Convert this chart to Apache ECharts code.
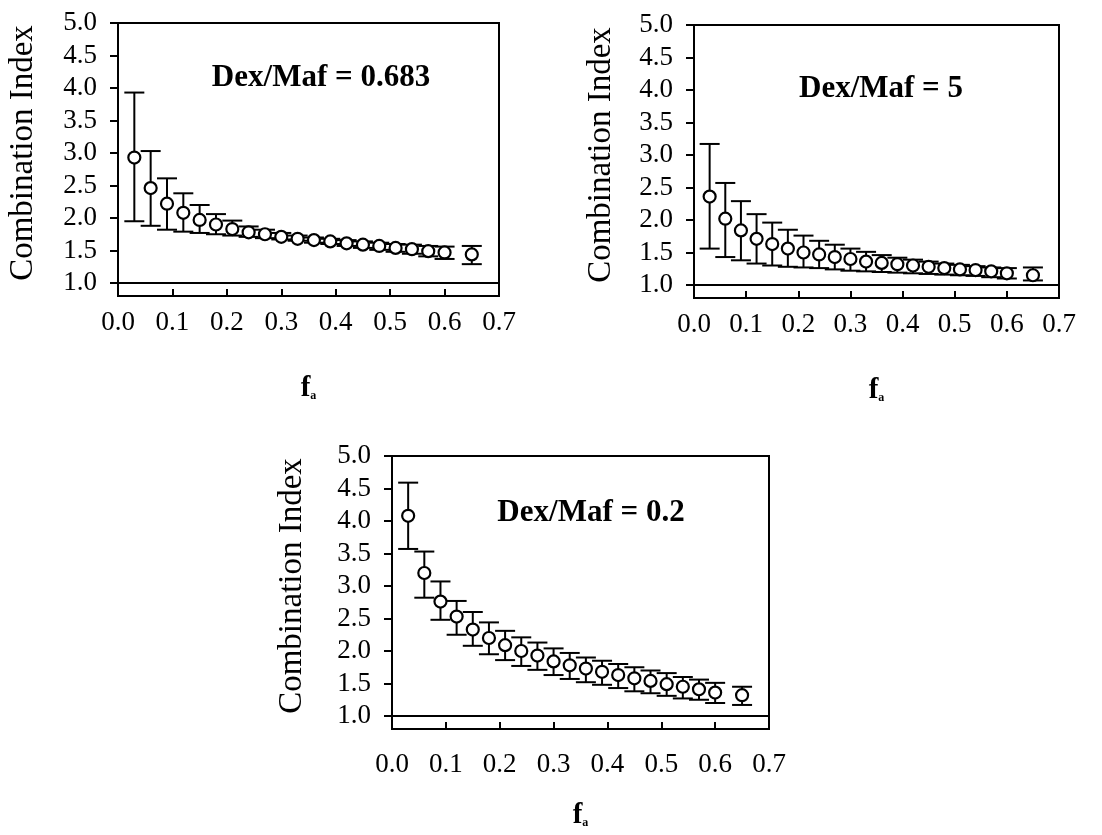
<!DOCTYPE html>
<html>
<head>
<meta charset="utf-8">
<script src="https://cdn.jsdelivr.net/npm/echarts@6/dist/echarts.min.js"></script>
<style>html,body{margin:0;padding:0;background:#fff}#c{width:1102px;height:835px}</style>
</head>
<body>
<div id="c"></div>
<script>
// ---- data ----
const fa = [0.03,0.06,0.09,0.12,0.15,0.18,0.21,0.24,0.27,0.30,0.33,0.36,0.39,0.42,0.45,0.48,0.51,0.54,0.57,0.60,0.65];

const ci1 = [2.93,2.46,2.22,2.08,1.97,1.90,1.83,1.78,1.75,1.71,1.68,1.66,1.64,1.61,1.59,1.57,1.54,1.52,1.49,1.47,1.44];
const hi1 = [3.93,3.03,2.61,2.38,2.20,2.06,1.96,1.87,1.82,1.77,1.73,1.70,1.68,1.66,1.64,1.62,1.60,1.59,1.57,1.56,1.57];
const lo1 = [1.95,1.88,1.82,1.79,1.77,1.75,1.73,1.71,1.69,1.67,1.65,1.62,1.60,1.57,1.54,1.51,1.48,1.45,1.41,1.37,1.29];

const ci2 = [2.36,2.02,1.84,1.71,1.63,1.56,1.50,1.47,1.43,1.40,1.36,1.34,1.32,1.30,1.28,1.26,1.24,1.23,1.21,1.18,1.15];
const hi2 = [3.17,2.57,2.29,2.09,1.96,1.85,1.76,1.68,1.62,1.56,1.51,1.46,1.42,1.39,1.36,1.33,1.31,1.29,1.27,1.26,1.27];
const lo2 = [1.56,1.43,1.38,1.33,1.30,1.28,1.27,1.26,1.24,1.22,1.21,1.20,1.19,1.18,1.17,1.16,1.15,1.14,1.12,1.10,1.07];

const ci3 = [4.08,3.20,2.76,2.53,2.33,2.20,2.09,2.00,1.93,1.84,1.78,1.73,1.68,1.63,1.58,1.54,1.49,1.45,1.41,1.36,1.32];
const hi3 = [4.59,3.53,3.07,2.77,2.60,2.44,2.31,2.21,2.13,2.04,1.97,1.90,1.85,1.80,1.75,1.70,1.66,1.60,1.56,1.51,1.45];
const lo3 = [3.57,2.82,2.48,2.25,2.08,1.95,1.86,1.77,1.71,1.63,1.57,1.52,1.48,1.43,1.38,1.35,1.31,1.27,1.25,1.20,1.17];

const panelTitles = ['Dex/Maf = 0.683', 'Dex/Maf = 5', 'Dex/Maf = 0.2'];
const yTicks = [1.0,1.5,2.0,2.5,3.0,3.5,4.0,4.5,5.0];
const xTicks = [0.0,0.1,0.2,0.3,0.4,0.5,0.6,0.7];
const baseline = 1.0;
const yName = 'Combination Index';

// ---- layout ----
const FONT = '"Liberation Serif", "Times New Roman", serif';
const panels = [
  {ci: ci1, hi: hi1, lo: lo1, grid: {left: 118, top: 23, width: 381, height: 273}, title: [321, 78], yname: [23, 153], nameGap: 78, labelMargin: 13},
  {ci: ci2, hi: hi2, lo: lo2, grid: {left: 694, top: 25, width: 365, height: 273}, title: [881, 89], yname: [601, 155], nameGap: 78, labelMargin: 13},
  {ci: ci3, hi: hi3, lo: lo3, grid: {left: 392, top: 456, width: 377, height: 273}, title: [591, 513], yname: [292, 586], nameGap: 72, labelMargin: 22}
];

const grids = [], xAxes = [], yAxes = [], series = [], graphics = [];
panels.forEach((p, k) => {
  grids.push(Object.assign({show: true, borderColor: '#000', borderWidth: 2, backgroundColor: 'transparent'}, p.grid));
  xAxes.push({
    type: 'value', gridIndex: k, min: xTicks[0], max: xTicks[xTicks.length - 1], interval: 0.1,
    axisLine: {show: true, onZero: false, lineStyle: {color: '#000', width: 2}},
    axisTick: {show: true, inside: true, length: 7, lineStyle: {color: '#000', width: 2}},
    axisLabel: {margin: p.labelMargin, color: '#000', fontSize: 27, fontFamily: FONT, formatter: v => v.toFixed(1), customValues: xTicks},
    splitLine: {show: false},
    name: '{f|f}{s|a}', nameLocation: 'middle', nameGap: p.nameGap,
    nameTextStyle: {rich: {
      f: {fontSize: 29, fontWeight: 'bold', fontFamily: FONT, color: '#000'},
      s: {fontSize: 12, fontWeight: 'bold', fontFamily: FONT, color: '#000', padding: [14, 0, 0, 0]}
    }}
  });
  yAxes.push({
    type: 'value', gridIndex: k, min: 0.8, max: 5.0,
    axisLine: {show: true, onZero: false, lineStyle: {color: '#000', width: 2}},
    axisTick: {show: true, inside: false, length: 8, customValues: yTicks, lineStyle: {color: '#000', width: 2}},
    axisLabel: {margin: 21, color: '#000', fontSize: 27, fontFamily: FONT, formatter: v => v.toFixed(1), customValues: yTicks},
    splitLine: {show: false}
  });
  series.push({
    type: 'custom', xAxisIndex: k, yAxisIndex: k, z: 2,
    data: fa.map((x, i) => [x, p.lo[i], p.hi[i]]),
    encode: {x: 0, y: [1, 2]},
    renderItem: function (params, api) {
      const x = api.value(0);
      const a = api.coord([x, api.value(2)]);
      const b = api.coord([x, api.value(1)]);
      const w = 10;
      const st = {stroke: '#000', lineWidth: 2};
      return {type: 'group', children: [
        {type: 'line', shape: {x1: a[0], y1: a[1], x2: b[0], y2: b[1]}, style: st},
        {type: 'line', shape: {x1: a[0] - w, y1: a[1], x2: a[0] + w, y2: a[1]}, style: st},
        {type: 'line', shape: {x1: b[0] - w, y1: b[1], x2: b[0] + w, y2: b[1]}, style: st}
      ]};
    },
    silent: true
  });
  series.push({
    type: 'scatter', xAxisIndex: k, yAxisIndex: k, z: 5,
    data: fa.map((x, i) => [x, p.ci[i]]),
    symbol: 'circle', symbolSize: 12,
    itemStyle: {color: '#fff', borderColor: '#000', borderWidth: 2.2, opacity: 1},
    silent: true,
    markLine: {silent: true, symbol: 'none', label: {show: false},
      lineStyle: {color: '#000', width: 2, type: 'solid'}, data: [{yAxis: baseline}]}
  });
  graphics.push({type: 'text', x: p.title[0], y: p.title[1], style: {
    text: panelTitles[k], fontSize: 31, fontWeight: 'bold', fontFamily: FONT, fill: '#000', align: 'center', verticalAlign: 'middle'}});
  graphics.push({type: 'text', x: p.yname[0], y: p.yname[1], rotation: Math.PI / 2, style: {
    text: yName, fontSize: 33, fontFamily: FONT, fill: '#000', align: 'center', verticalAlign: 'middle'}});
});

const chart = echarts.init(document.getElementById('c'), null, {renderer: 'canvas'});
chart.setOption({
  animation: false,
  backgroundColor: '#fff',
  grid: grids, xAxis: xAxes, yAxis: yAxes, series: series, graphic: graphics
});
</script>
</body>
</html>
